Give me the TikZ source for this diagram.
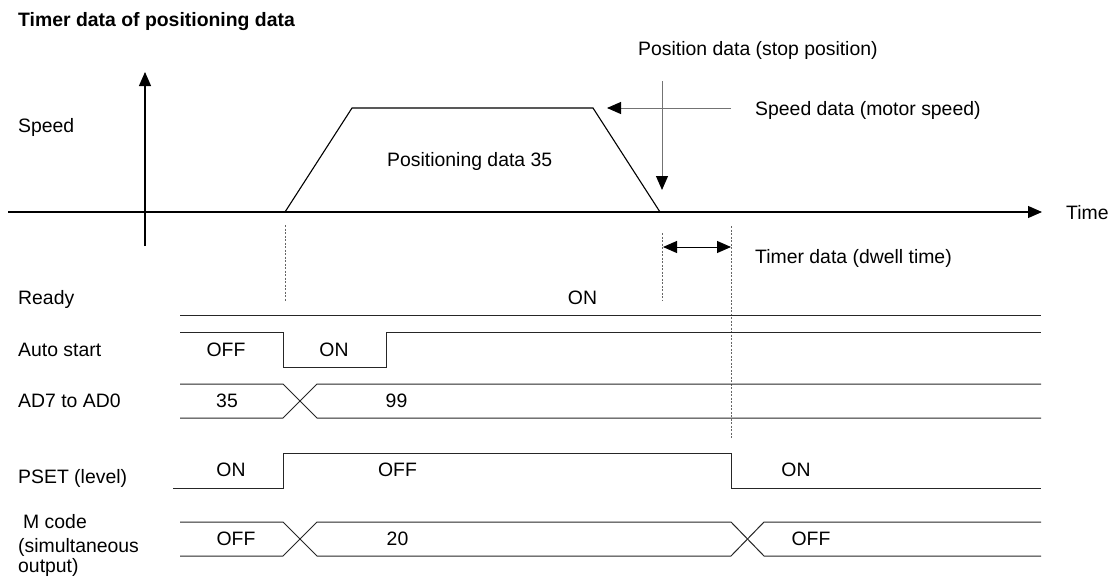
\documentclass[tikz,border=0pt]{standalone}
\usepackage{fontspec}
\setmainfont{Liberation Sans}
\usetikzlibrary{arrows.meta}
\begin{document}
\begin{tikzpicture}[x=1pt,y=-1pt,
  txt/.style={font=\fontsize{19.4}{23}\selectfont, inner sep=0pt, anchor=base west},
  val/.style={font=\fontsize{19.4}{23}\selectfont, inner sep=0pt, anchor=base},
  sig/.style={line width=1pt, black!85},
  axis/.style={line width=1.1pt, -{Triangle[length=14pt,width=12pt]}},
  note/.style={line width=1pt, black!55, -{Triangle[length=14pt,width=12pt,black]}},
  dwell/.style={line width=1pt, {Triangle[length=14pt,width=12pt]}-{Triangle[length=14pt,width=12pt]}},
  guide/.style={black!60, line width=0.8pt, dash pattern=on 2pt off 1.5pt}]
\useasboundingbox (0,0) rectangle (1110,578);

% title
\node[txt, font=\fontsize{19.4}{23}\selectfont\bfseries] (title) at (18,27) {Timer data of positioning data};

% axes
\coordinate (yb) at (145,246); \coordinate (yt) at (145,72);
\draw[axis] (yb) -- (yt);
\coordinate (xl) at (8,212); \coordinate (xr) at (1042,212);
\draw[axis] (xl) -- (xr);
\node[txt] (time) at (1066,219) {Time};
\node[txt] (speed) at (18,132) {Speed};

% speed profile
\coordinate (p0) at (285,212); \coordinate (p1) at (352,108);
\coordinate (p2) at (593,108); \coordinate (p3) at (660,212);
\draw[line width=1.1pt] (p0) -- (p1) -- (p2) -- (p3);
\node[txt] (pd35) at (387,166) {Positioning data 35};

% annotations
\coordinate (sa0) at (731,108); \coordinate (sa1) at (607,108);
\draw[note] (sa0) -- (sa1);
\node[txt] (spd) at (755,115) {Speed data (motor speed)};
\coordinate (pa0) at (662,81); \coordinate (pa1) at (662,190);
\draw[note] (pa0) -- (pa1);
\node[txt] (pos) at (638,56) {Position data (stop position)};

% guides
\coordinate (g1a) at (285,225); \coordinate (g1b) at (285,302);
\coordinate (g2a) at (662,233); \coordinate (g2b) at (662,301);
\coordinate (g3a) at (731,226); \coordinate (g3b) at (731,438);
\draw[guide] (g1a) -- (g1b);
\draw[guide] (g2a) -- (g2b);
\draw[guide] (g3a) -- (g3b);

% dwell
\coordinate (d0) at (663,247); \coordinate (d1) at (731,247);
\draw[dwell] (d0) -- (d1);
\node[txt] (dw) at (755,263) {Timer data (dwell time)};

% signal labels
\node[txt] (lready) at (18,304) {Ready};
\node[txt] (lauto) at (18,356) {Auto start};
\node[txt] (lad) at (18,407) {AD7 to AD0};
\node[txt] (lpset) at (18,483) {PSET (level)};
\node[txt] (lm1) at (23,528) {M code};
\node[txt] (lm2) at (18,552) {(simultaneous};
\node[txt] (lm3) at (18,572) {output)};

% Ready
\draw[sig] (180,315) -- (1041,315);
\node[val] (vready) at (582.5,304) {ON};

% Auto start
\draw[sig] (180,332) -- (283,332) -- (283,367) -- (386,367) -- (386,332) -- (1041,332);
\node[val] (va1) at (226,356) {OFF};
\node[val] (va2) at (334,356) {ON};

% AD7 to AD0
\draw[sig] (180,384) -- (283,384) -- (317,418) -- (1041,418);
\draw[sig] (180,418) -- (283,418) -- (317,384) -- (1041,384);
\node[val] (vd1) at (227,407) {35};
\node[val] (vd2) at (396.5,407) {99};

% PSET
\draw[sig] (173,488) -- (283,488) -- (283,453) -- (731,453) -- (731,488) -- (1041,488);
\node[val] (vp1) at (231,476.5) {ON};
\node[val] (vp2) at (397.5,476.5) {OFF};
\node[val] (vp3) at (796,476.5) {ON};

% M code
\draw[sig] (180,522) -- (283,522) -- (317,556) -- (731,556) -- (764,522) -- (1041,522);
\draw[sig] (180,556) -- (283,556) -- (317,522) -- (731,522) -- (764,556) -- (1041,556);
\node[val] (vm1) at (236,545.5) {OFF};
\node[val] (vm2) at (397.5,545.5) {20};
\node[val] (vm3) at (811,545.5) {OFF};
\end{tikzpicture}
\end{document}
